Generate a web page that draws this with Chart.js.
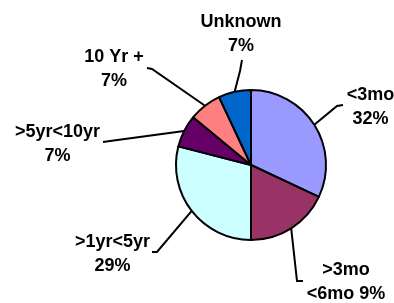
<!DOCTYPE html>
<html>
<head>
<meta charset="utf-8">
<script src="https://cdn.jsdelivr.net/npm/chart.js@4/dist/chart.umd.min.js"></script>
<style>
  html, body { margin: 0; padding: 0; background: #fff; }
  #wrap { width: 394px; height: 303px; position: relative; }
</style>
</head>
<body>
<div id="wrap"><canvas id="pieChart" width="394" height="303"></canvas></div>
<script>
// Chart data
const categories = ['<3mo', '>3mo <6mo', '>1yr<5yr', '>5yr<10yr', '10 Yr +', 'Unknown'];
const sliceValues = [32, 18, 29, 7, 7, 7];
// label text exactly as printed on the chart
const labelLines = [
    ['<3mo', '32%'],
    ['>3mo', '<6mo 9%'],
    ['>1yr<5yr', '29%'],
    ['>5yr<10yr', '7%'],
    ['10 Yr +', '7%'],
    ['Unknown', '7%']
];
const sliceColors = ['#9999FF', '#993366', '#CCFFFF', '#660066', '#FF8080', '#0066CC'];

// label placement relative to the pie centre: text anchor + leader elbow points
const labelLayout = [
    { tx: 119.5, ty: -65,   elbow: [[92, -60], [86, -59]] },
    { tx: 95,    ty: 110,   elbow: [[52, 116], [46, 116]] },
    { tx: -138.5, ty: 82,   elbow: [[-99, 87], [-94, 87]] },
    { tx: -193.5, ty: -28,  elbow: [[-148, -23], [-141, -24]] },
    { tx: -137,  ty: -103,  elbow: [[-104, -97], [-99, -96]] },
    { tx: -10,   ty: -138.5, elbow: [[-9, -105], [-11, -94]] }
];

const leaderLabels = {
    id: 'leaderLabels',
    afterDatasetsDraw(chart) {
        const ctx = chart.ctx;
        const meta = chart.getDatasetMeta(0);
        ctx.save();
        ctx.strokeStyle = '#000';
        ctx.lineWidth = 2;
        ctx.fillStyle = '#000';
        ctx.font = 'bold 18px "Liberation Sans", Arial, sans-serif';
        ctx.textAlign = 'center';
        ctx.textBaseline = 'alphabetic';
        meta.data.forEach((arc, i) => {
            const p = arc.getProps(['x', 'y', 'startAngle', 'endAngle', 'outerRadius'], true);
            const mid = (p.startAngle + p.endAngle) / 2;
            const ex = p.x + Math.cos(mid) * p.outerRadius;
            const ey = p.y + Math.sin(mid) * p.outerRadius;
            const lay = labelLayout[i];
            ctx.beginPath();
            ctx.moveTo(p.x + lay.elbow[0][0], p.y + lay.elbow[0][1]);
            ctx.lineTo(p.x + lay.elbow[1][0], p.y + lay.elbow[1][1]);
            ctx.lineTo(ex, ey);
            ctx.stroke();
            labelLines[i].forEach((line, k) => {
                ctx.fillText(line, p.x + lay.tx, p.y + lay.ty + k * 24);
            });
        });
        ctx.restore();
    }
};

const ctx = document.getElementById('pieChart').getContext('2d');
new Chart(ctx, {
    type: 'pie',
    data: {
        labels: categories,
        datasets: [{
            data: sliceValues,
            backgroundColor: sliceColors,
            borderColor: '#000',
            borderWidth: 2
        }]
    },
    options: {
        responsive: false,
        animation: false,
        radius: 75,
        layout: { padding: { left: 108, right: 0, top: 27, bottom: 0 } },
        plugins: {
            legend: { display: false },
            tooltip: { enabled: false }
        }
    },
    plugins: [leaderLabels]
});
</script>
</body>
</html>
